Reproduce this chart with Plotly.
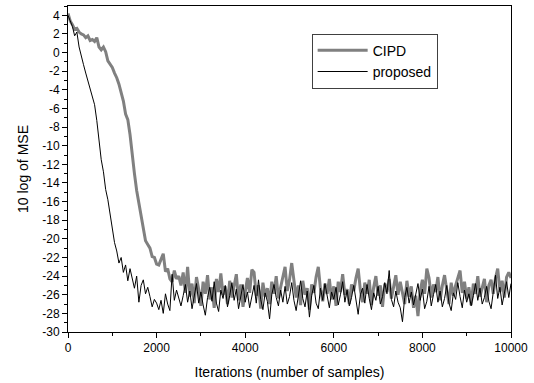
import plotly.graph_objects as go

step = 50
iterations = list(range(0, 10001, step))

cipd_db = [
    4.2, 3.4, 3.0, 2.5, 2.6, 2.2, 2.0, 1.9, 1.6, 1.8,
    1.3, 1.4, 1.2, 1.6, 0.6, 0.3, 0.6, 0.1, -0.9, -1.2,
    -1.6, -2.2, -2.7, -3.4, -4.2, -5.2, -6.6, -7.2, -8.8, -10.6,
    -13.0, -14.8, -16.2, -17.6, -19.0, -20.2, -20.6, -21.0, -21.9, -22.0,
    -22.7, -22.8, -22.2, -21.6, -23.5, -23.2, -24.3, -24.6, -23.4, -24.3,
    -24.0,
    -25.0, -23.6, -25.8, -23.0, -26.2, -24.8, -26.9, -24.1, -25.4, -27.2,
    -24.6, -25.9, -23.9, -26.5, -25.2, -27.4, -24.3, -25.7, -23.7, -26.0,
    -25.1, -27.0, -24.5, -26.3, -25.0, -23.8, -26.6, -24.9, -27.3, -25.5,
    -24.2, -25.8, -23.3, -23.6, -26.1, -25.0, -27.5, -24.7, -26.2, -25.3,
    -27.0, -24.6, -25.9, -24.0, -26.4, -25.2, -23.9, -23.0, -25.6, -24.4,
    -22.6, -24.8, -26.3, -25.0, -27.1, -24.5, -26.0, -25.3, -27.6, -24.9,
    -25.8, -24.1, -23.0, -25.4, -26.7, -24.8, -25.9, -24.3, -26.5, -25.1,
    -27.2, -24.6, -25.7, -23.8, -26.0, -25.4, -27.0, -24.9, -25.6, -24.2,
    -23.2, -25.5, -26.8, -24.7, -25.9, -24.4, -27.1, -25.2, -24.0, -26.1,
    -25.0, -27.3, -24.8, -25.7, -24.3, -26.4, -25.2, -23.9, -26.0, -24.6,
    -25.8, -27.0, -24.5, -26.2, -25.1, -27.4, -26.1, -28.3, -25.6, -24.4,
    -25.9, -23.2, -24.2, -26.3, -24.9, -25.7, -24.1, -26.6, -25.0, -23.9,
    -25.5, -27.0, -24.7, -26.1, -25.0, -24.2, -23.4, -25.8, -24.6, -26.4,
    -25.2, -27.1, -24.8, -25.9, -24.0, -26.2, -25.1, -24.3, -26.8, -25.0,
    -24.4, -25.9, -24.2, -23.2, -25.7, -24.5, -26.3, -24.1, -23.6, -24.2,
]

proposed_db = [
    4.0, 3.3, 2.8, 1.8, 2.2, 0.6, -0.5, -1.3, -2.2, -3.0,
    -3.9, -4.6, -5.6, -7.3, -9.4, -11.5, -12.8, -14.7, -15.8, -17.3,
    -18.6, -20.4, -21.3, -22.6, -22.0, -23.6, -22.8, -24.5, -23.2, -24.2,
    -25.3, -24.0, -26.8, -25.0, -24.4, -25.9, -25.2, -26.2, -27.3, -26.5,
    -26.9, -27.6, -26.6, -28.0, -25.9, -27.0, -27.7, -23.8, -26.6, -25.5,
    -26.3,
    -27.2, -26.1, -24.9, -26.8, -25.6, -27.5, -26.0, -24.8, -26.9, -25.7,
    -27.1, -28.2, -26.3, -25.2, -26.7, -24.6, -26.9, -27.8, -25.5, -26.4,
    -25.0, -27.3, -26.1, -24.7, -26.6, -25.4, -27.5, -26.0, -24.9, -26.8,
    -25.7, -27.4, -26.2, -25.0, -26.9, -24.4, -26.5, -27.6, -25.8, -26.7,
    -28.6, -26.0, -24.9, -26.3, -27.2, -25.5, -26.8, -25.1, -27.0, -26.2,
    -24.7, -26.6, -27.7, -25.9, -24.5, -26.4, -27.3, -25.6, -28.4, -26.1,
    -25.0, -26.9, -27.5, -25.3, -26.6, -24.8, -26.2, -27.4, -25.7, -26.5,
    -25.2, -27.1, -26.0, -24.6, -26.8, -25.5, -27.2, -26.3, -25.0, -26.7,
    -28.1, -26.0, -25.3, -26.9, -24.9, -26.4, -27.6, -25.8, -26.6, -25.1,
    -27.0, -26.2, -24.7, -25.9, -23.4, -26.5, -27.3, -25.6, -26.8, -27.4,
    -28.9, -26.3, -25.2, -26.9, -25.7, -27.1, -26.0, -24.8, -26.6, -25.4,
    -27.5, -26.7, -25.1, -27.2, -26.0, -24.9, -26.8, -25.6, -27.3, -26.4,
    -25.0, -26.9, -27.7, -25.8, -26.5, -24.7, -26.2, -27.4, -25.5, -26.8,
    -25.9, -27.2, -26.1, -24.8, -26.6, -25.3, -27.0, -26.3, -25.1, -26.7,
    -27.5, -25.6, -23.9, -26.4, -25.2, -27.1, -26.0, -24.6, -26.3, -24.8,
]

series_names = ["CIPD", "proposed"]
x_tick_vals = [0, 2000, 4000, 6000, 8000, 10000]
x_tick_text = ["0", "2000", "4000", "6000", "8000", "10000"]
y_tick_vals = list(range(4, -31, -2))
y_tick_text = [str(v) for v in y_tick_vals]  # plain hyphen-minus
x_range = [0, 10000]
y_range = [-30, 5]

fig = go.Figure()
fig.add_trace(go.Scatter(x=iterations, y=cipd_db, mode="lines", name=series_names[0],
                         line=dict(color="#808080", width=3)))
fig.add_trace(go.Scatter(x=iterations, y=proposed_db, mode="lines", name=series_names[1],
                         line=dict(color="#000000", width=1)))

font = "Liberation Sans, Arial, sans-serif"
fig.update_layout(
    width=534, height=383,
    margin=dict(l=68, r=23, t=6, b=51),
    paper_bgcolor="white", plot_bgcolor="white",
    font=dict(family=font, size=12, color="black"),
    showlegend=True,
    legend=dict(x=0.55, y=0.915, xanchor="left", yanchor="top",
                bordercolor="#404040", borderwidth=1, bgcolor="white",
                font=dict(size=14), tracegroupgap=0, itemwidth=50),
    xaxis=dict(range=x_range, tickmode="array", tickvals=x_tick_vals, ticktext=x_tick_text,
               showgrid=False, zeroline=False,
               showline=True, linecolor="black", linewidth=1, mirror=True,
               ticks="outside", ticklen=5, tickcolor="black",
               minor=dict(dtick=1000, tick0=0, ticks="outside", ticklen=3, tickcolor="black"),
               title=dict(text="Iterations (number of samples)", font=dict(size=14), standoff=12),
               tickfont=dict(size=12)),
    yaxis=dict(range=y_range, tickmode="array", tickvals=y_tick_vals, ticktext=y_tick_text,
               showgrid=False, zeroline=False,
               showline=True, linecolor="black", linewidth=1, mirror=True,
               ticks="outside", ticklen=5, tickcolor="black",
               minor=dict(dtick=1, tick0=0, ticks="outside", ticklen=3, tickcolor="black"),
               title=dict(text="10 log of MSE", font=dict(size=14), standoff=10),
               tickfont=dict(size=12)),
    xaxis2=dict(range=x_range, overlaying="x", side="top", dtick=2000, tick0=0,
                showgrid=False, zeroline=False, showticklabels=False,
                ticks="inside", ticklen=5, tickcolor="black",
                minor=dict(dtick=1000, ticks="inside", ticklen=3, tickcolor="black")),
    yaxis2=dict(range=y_range, overlaying="y", side="right", dtick=2, tick0=0,
                showgrid=False, zeroline=False, showticklabels=False,
                ticks="inside", ticklen=5, tickcolor="black",
                minor=dict(dtick=1, ticks="inside", ticklen=3, tickcolor="black")),
)

fig.write_html("out.html")
